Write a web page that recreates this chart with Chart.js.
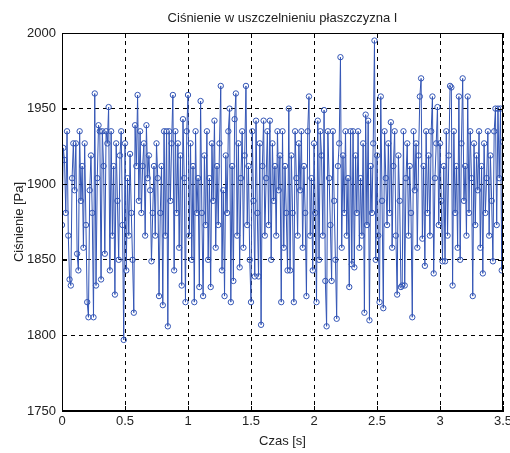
<!DOCTYPE html>
<html>
<head>
<meta charset="utf-8">
<script src="https://cdn.jsdelivr.net/npm/chart.js@4.4.0/dist/chart.umd.min.js"></script>
<style>
  body { margin: 0; background: #fff; }
  canvas { display: block; }
</style>
</head>
<body>
<canvas id="myChart" width="510" height="453"></canvas>
<script>
// czas [s], krok 0.01
let dt = 0.01
// cisnienie [Pa] (wiersz = 0.1 s)
let pressure = [
  1873, 1924, 1916, 1881, 1935, 1866, 1837, 1833, 1904, 1927,
  1896, 1927, 1854, 1843, 1935, 1889, 1912, 1858, 1927, 1873,
  1822, 1812, 1896, 1919, 1881, 1812, 1960, 1833, 1904, 1939,
  1935, 1837, 1935, 1912, 1854, 1935, 1927, 1951, 1843, 1935,
  1866, 1912, 1827, 1927, 1889, 1850, 1919, 1935, 1873, 1797,
  1927, 1843, 1904, 1866, 1920, 1881, 1850, 1815, 1939, 1912,
  1959, 1889, 1935, 1881, 1912, 1927, 1866, 1939, 1904, 1919,
  1896, 1849, 1881, 1912, 1866, 1927, 1904, 1826, 1881, 1912,
  1820, 1935, 1866, 1935, 1806, 1935, 1889, 1927, 1959, 1843,
  1935, 1881, 1927, 1858, 1919, 1833, 1943, 1904, 1822, 1935,
  1959, 1866, 1927, 1850, 1912, 1822, 1935, 1881, 1904, 1832,
  1955, 1881, 1826, 1919, 1873, 1935, 1850, 1904, 1832, 1927,
  1889, 1942, 1858, 1912, 1873, 1927, 1965, 1843, 1896, 1826,
  1919, 1881, 1935, 1950, 1822, 1912, 1836, 1943, 1960, 1866,
  1927, 1845, 1904, 1935, 1858, 1919, 1965, 1873, 1912, 1850,
  1822, 1935, 1889, 1839, 1942, 1881, 1839, 1927, 1807, 1912,
  1942, 1866, 1904, 1935, 1873, 1942, 1850, 1927, 1889, 1912,
  1866, 1935, 1896, 1919, 1822, 1935, 1858, 1912, 1881, 1843,
  1950, 1843, 1919, 1881, 1822, 1935, 1904, 1866, 1927, 1896,
  1935, 1858, 1912, 1881, 1826, 1935, 1958, 1866, 1904, 1843,
  1927, 1881, 1822, 1942, 1850, 1935, 1919, 1866, 1949, 1836,
  1806, 1935, 1904, 1873, 1836, 1935, 1889, 1850, 1811, 1912,
  1927, 1984, 1858, 1919, 1881, 1935, 1866, 1904, 1832, 1935,
  1847, 1935, 1845, 1919, 1881, 1935, 1858, 1904, 1866, 1927,
  1815, 1946, 1873, 1942, 1810, 1912, 1881, 1927, 1995, 1850,
  1919, 1866, 1822, 1958, 1889, 1818, 1935, 1904, 1873, 1927,
  1881, 1941, 1858, 1912, 1935, 1866, 1827, 1919, 1889, 1832,
  1833, 1935, 1833, 1904, 1927, 1866, 1912, 1881, 1812, 1935,
  1896, 1927, 1858, 1919, 1958, 1970, 1864, 1912, 1846, 1935,
  1881, 1919, 1866, 1935, 1958, 1841, 1904, 1927, 1951, 1873,
  1927, 1889, 1849, 1912, 1849, 1935, 1866, 1919, 1965, 1964,
  1833, 1935, 1881, 1912, 1858, 1958, 1850, 1927, 1970, 1889,
  1912, 1866, 1958, 1881, 1935, 1904, 1826, 1927, 1873, 1919,
  1896, 1935, 1858, 1912, 1841, 1927, 1881, 1904, 1935, 1866,
  1919, 1889, 1849, 1935, 1950, 1873, 1950, 1904, 1950, 1843,
  1928
]
let xTicks = [0, 0.5, 1, 1.5, 2, 2.5, 3, 3.5]
let yTicks = [1750, 1800, 1850, 1900, 1950, 2000]

let points = pressure.map((p, i) => ({ x: +(i * dt).toFixed(2), y: p }))

let fontFam = "'Liberation Sans', Arial, sans-serif"
let textColor = '#222'

// ramka osi + male kreski podzialki do srodka (jak w MATLAB) + tytul
let matlabBox = {
  id: 'matlabBox',
  afterDraw(chart) {
    let c = chart.ctx, a = chart.chartArea
    let xs = chart.scales.x, ys = chart.scales.y
    c.save()
    c.strokeStyle = '#000'
    c.lineWidth = 1
    c.setLineDash([])
    c.strokeRect(a.left + 0.5, a.top + 0.5, a.right - a.left - 1, a.bottom - a.top - 1)
    c.beginPath()
    xTicks.forEach(v => {
      let px = Math.round(xs.getPixelForValue(v)) + 0.5
      c.moveTo(px, a.bottom); c.lineTo(px, a.bottom - 5)
      c.moveTo(px, a.top); c.lineTo(px, a.top + 5)
    })
    yTicks.forEach(v => {
      let py = Math.round(ys.getPixelForValue(v)) + 0.5
      c.moveTo(a.left, py); c.lineTo(a.left + 5, py)
      c.moveTo(a.right, py); c.lineTo(a.right - 5, py)
    })
    c.stroke()
    c.fillStyle = textColor
    c.font = '13px ' + fontFam
    c.textAlign = 'center'
    c.textBaseline = 'middle'
    c.fillText('Ciśnienie w uszczelnieniu płaszczyzna I', (a.left + a.right) / 2, 18)
    c.restore()
  }
}

new Chart('myChart', {
  type: 'line',
  data: {
    datasets: [{
      data: points,
      borderColor: '#3355b5',
      borderWidth: 1,
      pointStyle: 'circle',
      pointRadius: 2.7,
      pointBorderWidth: 1,
      pointBorderColor: '#3355b5',
      pointBackgroundColor: 'rgba(0,0,0,0)',
      tension: 0
    }]
  },
  options: {
    responsive: false,
    animation: false,
    layout: { padding: { top: 33, right: 7, left: 0, bottom: 0 } },
    plugins: { legend: { display: false }, tooltip: { enabled: false } },
    scales: {
      x: {
        type: 'linear',
        min: 0, max: 3.5,
        afterBuildTicks: s => { s.ticks = xTicks.map(v => ({ value: v })) },
        afterFit: s => { s.height = 42; s.paddingLeft = 0; s.paddingRight = 0 },
        ticks: {
          color: textColor, font: { family: fontFam, size: 13 }, padding: 3,
          maxRotation: 0, autoSkip: false,
          callback: v => String(v)
        },
        grid: { color: '#000', lineWidth: 1, drawTicks: false },
        border: { display: true, color: '#000', dash: [4, 4] },
        title: {
          display: true, text: 'Czas [s]', color: textColor,
          font: { family: fontFam, size: 13 }, padding: { top: 0, bottom: 4 }
        }
      },
      y: {
        min: 1750, max: 2000,
        afterBuildTicks: s => { s.ticks = yTicks.map(v => ({ value: v })) },
        afterFit: s => { s.width = 62 },
        ticks: {
          color: textColor, font: { family: fontFam, size: 13 }, padding: 6,
          callback: v => String(v)
        },
        grid: { color: '#000', lineWidth: 1, drawTicks: false },
        border: { display: true, color: '#000', dash: [4, 4] },
        title: {
          display: true, text: 'Ciśnienie [Pa]', color: textColor,
          font: { family: fontFam, size: 13 }, padding: { top: 12, bottom: 0 }
        }
      }
    }
  },
  plugins: [matlabBox]
})
</script>
</body>
</html>
